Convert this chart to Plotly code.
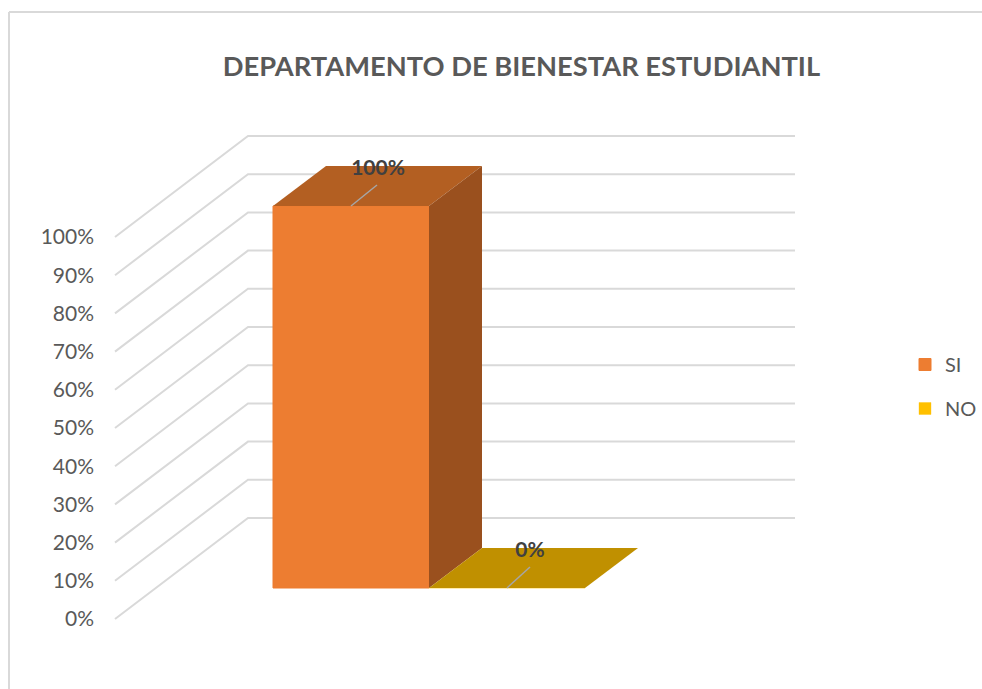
import plotly.graph_objects as go

# datos
categorias = ["SI", "NO"]
valores = [100, 0]
etiquetas = ["100%", "0%"]
y_ticks = [0, 10, 20, 30, 40, 50, 60, 70, 80, 90, 100]
y_textos = ["0%", "10%", "20%", "30%", "40%", "50%", "60%", "70%", "80%", "90%", "100%"]

# colores: frente, tapa, lateral
color_frente = ["#ED7D31", "#FFC000"]
color_borde = ["#ED7D31", "rgba(255,192,0,0.35)"]
color_tapa = ["#B35F22", "#C09000"]
color_lado = ["#9A501E", "#9A501E"]
GRIS = "#D9D9D9"

# geometria en pixeles de la pagina
W, H = 982, 689
PX_UNIDAD = 3.82       # pixeles por 1%
BASE_BARRA = 588       # y del 0% en el plano de las barras
BASE_PARED = 619       # y del 0% en el plano de las etiquetas
centros = [351, 507]
ANCHO = 156
DX, DY = 53, 40 / PX_UNIDAD   # profundidad de la barra
PARED_X0, PARED_X1, PARED_X2 = 115, 248, 795
PARED_DY = 101 / PX_UNIDAD
guia_dx = [26, 23]
texto_dx = [27, 23]

fig = go.Figure()

# pared lateral y pared del fondo
xs, ys = [], []
for t in y_ticks:
    xs += [PARED_X0, PARED_X1, PARED_X2, None]
    ys += [t, t + PARED_DY, t + PARED_DY, None]
fig.add_trace(go.Scatter(x=xs, y=ys, mode="lines", line=dict(color=GRIS, width=2),
                         showlegend=False, hoverinfo="skip"))

# barras
for i, cat in enumerate(categorias):
    fig.add_trace(go.Bar(x=[centros[i]], y=[valores[i]], width=ANCHO, name=cat,
                         marker=dict(color=color_frente[i], line=dict(color=color_borde[i], width=1)),
                         legendgroup=cat, yaxis="y2"))

# tapa y lateral de cada barra
for i, v in enumerate(valores):
    x0 = centros[i] - ANCHO / 2
    x1 = centros[i] + ANCHO / 2
    fig.add_trace(go.Scatter(x=[x0, x1, x1 + DX, x0 + DX, x0], y=[v, v, v + DY, v + DY, v],
                             mode="lines", fill="toself", fillcolor=color_tapa[i], line=dict(width=0),
                             showlegend=False, hoverinfo="skip", yaxis="y2"))
    if v > 0:
        fig.add_trace(go.Scatter(x=[x1, x1 + DX, x1 + DX, x1, x1], y=[0, DY, v + DY, v, 0],
                                 mode="lines", fill="toself", fillcolor=color_lado[i], line=dict(width=0),
                                 showlegend=False, hoverinfo="skip", yaxis="y2"))

# lineas guia y etiquetas
for i, v in enumerate(valores):
    fig.add_trace(go.Scatter(x=[centros[i], centros[i] + guia_dx[i]], y=[v, v + 21 / PX_UNIDAD],
                             mode="lines", line=dict(color="#A6A6A6", width=1.5),
                             showlegend=False, hoverinfo="skip", yaxis="y2"))
    fig.add_trace(go.Scatter(x=[centros[i] + texto_dx[i]], y=[v + 36 / PX_UNIDAD], text=[etiquetas[i]],
                             mode="text", textposition="middle center",
                             textfont=dict(family="Lato", size=21, color="#404040", weight="bold"),
                             showlegend=False, hoverinfo="skip", yaxis="y2"))

fig.update_layout(
    width=W, height=H,
    margin=dict(l=0, r=0, t=0, b=0),
    paper_bgcolor="white", plot_bgcolor="white",
    barmode="overlay",
    font=dict(family="Lato", color="#595959"),
    title=dict(text="<b>DEPARTAMENTO DE BIENESTAR ESTUDIANTIL</b>",
               x=521.5 / W, xanchor="center", y=1 - 66 / H, yanchor="middle",
               font=dict(family="Lato", size=27.3, color="#595959")),
    xaxis=dict(range=[0, W], visible=False),
    yaxis=dict(range=[(BASE_PARED - H) / PX_UNIDAD, BASE_PARED / PX_UNIDAD],
               tickvals=y_ticks, ticktext=y_textos, showgrid=False, zeroline=False,
               anchor="free", position=94 / W, showline=False, ticks="",
               tickfont=dict(family="Lato", size=21, color="#595959")),
    yaxis2=dict(range=[(BASE_BARRA - H) / PX_UNIDAD, BASE_BARRA / PX_UNIDAD],
                overlaying="y", visible=False),
    legend=dict(x=905 / W, xanchor="left", y=1 - 345 / H, yanchor="top",
                font=dict(family="Lato", size=20, color="#595959"),
                tracegroupgap=15, bgcolor="rgba(0,0,0,0)"),
    shapes=[
        dict(type="line", xref="paper", yref="paper", x0=9 / W, x1=9 / W, y0=0, y1=1 - 12 / H,
             line=dict(color=GRIS, width=2)),
        dict(type="line", xref="paper", yref="paper", x0=9 / W, x1=1, y0=1 - 12 / H, y1=1 - 12 / H,
             line=dict(color=GRIS, width=2)),
    ],
)

fig.write_html("out.html", post_script="document.body.style.margin='0';",
               config={"displayModeBar": False})
